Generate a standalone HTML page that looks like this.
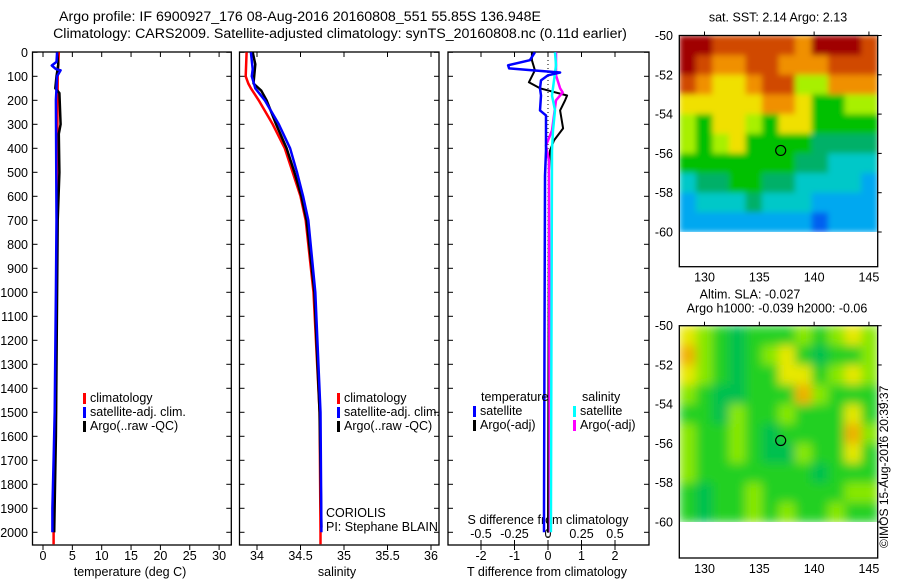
<!DOCTYPE html>
<html><head><meta charset="utf-8">
<style>
html,body{margin:0;padding:0;background:#fff;}
svg{display:block;font-family:"Liberation Sans",sans-serif;}
text{font-size:12.5px;fill:#000;}
</style></head>
<body>
<svg id="fig" width="900" height="580" viewBox="0 0 900 580">
<defs>
<filter id="blurSst" x="0" y="0" width="1" height="1"><feGaussianBlur stdDeviation="3" edgeMode="duplicate"/></filter>
<filter id="blurSla" x="0" y="0" width="1" height="1"><feGaussianBlur stdDeviation="5" edgeMode="duplicate"/></filter>
<clipPath id="clipM1"><rect x="679.3" y="35.5" width="198.4" height="196.5"/></clipPath>
<clipPath id="clipM2"><rect x="679.3" y="325.7" width="198.4" height="196.3"/></clipPath>
</defs>
<text x="300" y="21" text-anchor="middle" style="font-size:14.2px">Argo profile: IF 6900927_176 08-Aug-2016 20160808_551 55.85S 136.948E</text>
<text x="340" y="38" text-anchor="middle" style="font-size:14.2px">Climatology: CARS2009. Satellite-adjusted climatology: synTS_20160808.nc (0.11d earlier)</text>
<g id="g1"></g>
<g id="g2"></g>
<g id="g3"></g>
<g id="m1"></g>
<g id="m2"></g>
<text transform="translate(888,548) rotate(-90)" style="font-size:12px">©IMOS 15-Aug-2016 20:39:37</text>
</svg>
<script>
// ---- data ----
const depthTicks=[0,100,200,300,400,500,600,700,800,900,1000,1100,1200,1300,1400,1500,1600,1700,1800,1900,2000];
const tempTicks=[0,5,10,15,20,25,30];
const salTicks=[34,34.5,35,35.5,36];
const salTickLabels=['34','34.5','35','35.5','36'];
const tdTicks=[-2,-1,0,1,2];
const sdTicks=[-0.5,-0.25,0,0.25,0.5];
const sdTickLabels=['-0.5','-0.25','0','0.25','0.5'];

const tClimD=[0,100,500,1000,1500,2000,2050];
const tClimV=[2.7,2.5,2.4,2.3,2.2,1.8,1.8];
const tSatD=[0,40,55,70,75,100,200,700,1000,1500,1700,1900,2000];
const tSatV=[2.4,2.3,1.5,2.2,3.0,2.4,2.2,2.3,2.2,2.0,1.8,1.6,1.6];
const tArgoD=[0,50,100,150,170,300,340,500,700,1000,1600,2000];
const tArgoV=[2.4,2.6,2.3,2.1,2.8,3.0,2.7,2.8,2.5,2.4,2.2,1.9];

const sClimD=[0,100,130,150,200,300,400,500,600,700,1000,1500,2000,2050];
const sClimV=[33.88,33.87,33.9,33.93,34.02,34.18,34.32,34.41,34.5,34.56,34.65,34.72,34.73,34.73];
const sArgoD=[0,50,130,160,200,300,400,500,600,700,1000,1500,1980];
const sArgoV=[33.95,33.98,33.96,34.05,34.11,34.22,34.34,34.43,34.51,34.57,34.66,34.72,34.74];
const sSatD=[0,70,100,150,200,300,400,500,600,700,1000,1500,2000];
const sSatV=[33.93,33.95,33.94,33.98,34.09,34.25,34.38,34.46,34.53,34.59,34.67,34.73,34.74];

const dTSatD=[0,33,54,67,75,84,96,117,150,180,242,263,326,409,514,1900,2000];
const dTSatV=[-0.39,-0.54,-1.19,-1.16,-0.48,0.36,0,-0.21,-0.24,-0.21,-0.24,-0.06,-0.06,-0.06,-0.09,-0.12,-0.12];
const dTArgoD=[0,33,75,125,150,180,200,242,317,367,409,493,2000];
const dTArgoV=[-0.48,-0.48,-0.39,-0.57,-0.24,0.57,0.51,0.36,0.45,0.18,0.06,0.03,0];
const dSSatD=[0,54,117,180,242,326,409,2000];
const dSSatV=[0.052,0.06,0.045,0.03,0.052,0.037,0.03,0.022];
const dSArgoD=[0,96,150,167,200,326,388,451,2000];
const dSArgoV=[0.06,0.06,0.09,0.11,0.06,0.03,-0.015,0.007,0.015];

const lonTicks=[130,135,140,145];
const latTicks=[-50,-52,-54,-56,-58,-60];
const sstGrid=[
[0,0,1,1,1,1,1,2,0,0,0,1],
[0,1,2,2,1,1,2,2,2,1,1,1],
[1,2,3,3,2,1,1,4,4,2,2,2],
[3,3,3,3,3,2,2,3,5,5,4,4],
[4,5,3,3,4,5,3,3,5,5,5,5],
[4,5,4,3,5,5,5,5,6,6,6,6],
[5,5,5,5,5,5,5,6,6,7,7,7],
[7,6,6,5,5,6,6,7,7,7,7,8],
[8,7,7,7,6,7,7,7,8,8,8,8],
[8,8,8,8,8,8,8,8,9,8,8,8]];
const slaGrid=[
[4,3,2,1,2,2,2,3,2,3,4,3],
[5,3,2,1,2,3,4,2,1,2,2,3],
[4,3,2,1,2,2,4,4,2,3,4,3],
[3,2,1,1,2,2,2,5,3,2,2,2],
[2,2,1,3,2,2,3,2,2,2,4,2],
[3,2,2,3,2,1,2,2,2,2,5,3],
[3,2,2,3,2,1,1,3,2,2,4,2],
[3,2,2,2,2,2,2,2,1,2,2,2],
[2,1,2,2,3,2,2,2,2,2,3,3],
[2,1,2,2,3,2,3,2,2,3,2,2]];
const argoLon=[136.95], argoLat=[-55.85];

// ---- helpers ----
const NS='http://www.w3.org/2000/svg';
function mk(parent,tag,attrs,txt){const e=document.createElementNS(NS,tag);for(const k in attrs)e.setAttribute(k,attrs[k]);if(txt!==undefined)e.textContent=txt;parent.appendChild(e);return e;}
const Y0=52.3, YS=0.24;
const yD=d=>Y0+d*YS;

function panel(g,x0,x1,name){
  const r=mk(g,'rect',{x:x0,y:52,width:x1-x0,height:545-52,fill:'none',stroke:'#000','stroke-width':1.3});
  
  
  depthTicks.forEach(d=>{
    const t=mk(g,'line',{x1:x0,x2:x0+5,y1:yD(d),y2:yD(d),stroke:'#000'});
    
    
    const t2=mk(g,'line',{x1:x1-5,x2:x1,y1:yD(d),y2:yD(d),stroke:'#000'});
    
    
  });
}
function series(g,D,V,xf,color,name,w){
  const pts=D.map((d,i)=>xf(V[i]).toFixed(1)+','+yD(d).toFixed(1)).join(' ');
  const p=mk(g,'polyline',{points:pts,fill:'none',stroke:color,'stroke-width':w||2.5,'stroke-linejoin':'round'});
  
  
}
function legend(g,x,y,color,label){
  const l=mk(g,'rect',{x:x,y:y-9,width:3,height:11,fill:color});
  
  
  const t=mk(g,'text',{x:x+7,y:y},label);
  
  
}

// ---- temperature panel ----
const g1=document.getElementById('g1');
const xT=v=>43+5.87*v;
panel(g1,32.5,231.3,'temperature');
depthTicks.forEach(d=>{
  const t=mk(g1,'text',{x:28,y:yD(d)+4.5,'text-anchor':'end'},String(d));
  
  
});
tempTicks.forEach(v=>{
  const l=mk(g1,'line',{x1:xT(v),x2:xT(v),y1:52,y2:57,stroke:'#000'});
  
  
  const l2=mk(g1,'line',{x1:xT(v),x2:xT(v),y1:545,y2:550,stroke:'#000'});
  
  
  const t=mk(g1,'text',{x:xT(v),y:560,'text-anchor':'middle'},String(v));
  
  
});
const xl1=mk(g1,'text',{x:130,y:576,'text-anchor':'middle'},'temperature (deg C)');


series(g1,tClimD,tClimV,xT,'#f00','temp-climatology-line');
series(g1,tArgoD,tArgoV,xT,'#000','temp-argo-line');
series(g1,tSatD,tSatV,xT,'#00f','temp-satellite-line');
legend(g1,83,402,'#f00','climatology');
legend(g1,83,416,'#00f','satellite-adj. clim.');
legend(g1,83,430,'#000','Argo(..raw -QC)');

// ---- salinity panel ----
const g2=document.getElementById('g2');
const xS=v=>257+87*(v-34);
panel(g2,239.5,439,'salinity');
salTicks.forEach((v,i)=>{
  const l=mk(g2,'line',{x1:xS(v),x2:xS(v),y1:52,y2:57,stroke:'#000'});
  
  
  const l2=mk(g2,'line',{x1:xS(v),x2:xS(v),y1:545,y2:550,stroke:'#000'});
  
  
  const t=mk(g2,'text',{x:xS(v),y:560,'text-anchor':'middle'},salTickLabels[i]);
  
  
});
const xl2=mk(g2,'text',{x:337,y:576,'text-anchor':'middle'},'salinity');


series(g2,sClimD,sClimV,xS,'#f00','sal-climatology-line');
series(g2,sArgoD,sArgoV,xS,'#000','sal-argo-line');
series(g2,sSatD,sSatV,xS,'#00f','sal-satellite-line');
legend(g2,337,402,'#f00','climatology');
legend(g2,337,416,'#00f','satellite-adj. clim.');
legend(g2,337,430,'#000','Argo(..raw -QC)');
const c1=mk(g2,'text',{x:326,y:517},'CORIOLIS');


const c2=mk(g2,'text',{x:326,y:531},'PI: Stephane BLAIN');



// ---- difference panel ----
const g3=document.getElementById('g3');
const xTd=v=>548+33.5*v;
const xSd=v=>548+134*v;
panel(g3,448,649,'difference');
const zl=mk(g3,'line',{x1:xTd(0),x2:xTd(0),y1:52,y2:545,stroke:'#000','stroke-dasharray':'1 3'});


tdTicks.forEach(v=>{
  const l=mk(g3,'line',{x1:xTd(v),x2:xTd(v),y1:52,y2:57,stroke:'#000'});
  
  
  const l2=mk(g3,'line',{x1:xTd(v),x2:xTd(v),y1:545,y2:550,stroke:'#000'});
  
  
  const t=mk(g3,'text',{x:xTd(v),y:560,'text-anchor':'middle'},String(v));
  
  
});
sdTicks.forEach((v,i)=>{
  const l=mk(g3,'line',{x1:xSd(v),x2:xSd(v),y1:540,y2:545,stroke:'#000'});
  
  
  const t=mk(g3,'text',{x:xSd(v),y:538,'text-anchor':'middle'},sdTickLabels[i]);
  
  
});
const st=mk(g3,'text',{x:548,y:524,'text-anchor':'middle'},'S difference from climatology');


const tt=mk(g3,'text',{x:547,y:576,'text-anchor':'middle'},'T difference from climatology');


series(g3,dTArgoD,dTArgoV,xTd,'#000','tdiff-argo-line',2);
series(g3,dSArgoD,dSArgoV,xSd,'#f0f','sdiff-argo-line',2.5);
series(g3,dSSatD,dSSatV,xSd,'#0ff','sdiff-satellite-line',2.5);
series(g3,dTSatD,dTSatV,xTd,'#00f','tdiff-satellite-line',2.5);
const lt=mk(g3,'text',{x:481,y:401},'temperature');


const ls=mk(g3,'text',{x:582,y:401},'salinity');


legend(g3,473,415,'#00f','satellite');
legend(g3,473,429,'#000','Argo(-adj)');
legend(g3,573,415,'#0ff','satellite');
legend(g3,573,429,'#f0f','Argo(-adj)');

// ---- maps ----
const sstCols=['#a00000','#d04800','#f09000','#f0e000','#a8f000','#00c000','#00b068','#00c8c8','#00a8f0','#0060f0'];
const slaCols=['#00a888','#00c050','#20d020','#88e800','#e8e800','#f0b000'];
function map(g,top,dataBot,frameBot,grid,cols,title1,title2,name,filt,clip){
  const L=679.3,R=877.7;
  const xL=lon=>L+(lon-127.7)*(R-L)/18.1;
  const yL=lat=>top+(-50-lat)*(dataBot-top)/10;
  const nr=grid.length,nc=grid[0].length;
  const cw=(R-L)/nc,ch=(dataBot-top)/nr;
  const cg=mk(g,'g',{'clip-path':'url(#'+clip+')'});
  
  
  const fg=mk(cg,'g',{filter:'url(#'+filt+')'});
  grid.forEach((row,i)=>row.forEach((v,j)=>{
    const c=mk(fg,'rect',{x:L+j*cw,y:top+i*ch,width:cw+0.6,height:ch+0.6,fill:cols[v]});
    
    
  }));
  const f=mk(g,'rect',{x:L,y:top,width:R-L,height:frameBot-top,fill:'none',stroke:'#000','stroke-width':1.3});
  
  
  latTicks.forEach(lat=>{
    const t=mk(g,'text',{x:673,y:yL(lat)+4.5,'text-anchor':'end'},String(lat));
    
    
    const l=mk(g,'line',{x1:R,x2:R+4,y1:yL(lat),y2:yL(lat),stroke:'#000'});
    
    
  });
  lonTicks.forEach(lon=>{
    const l=mk(g,'line',{x1:xL(lon),x2:xL(lon),y1:top-4,y2:top,stroke:'#000'});
    
    
    const t=mk(g,'text',{x:xL(lon),y:frameBot+15,'text-anchor':'middle'},String(lon));
    
    
  });
  const c=mk(g,'circle',{cx:xL(argoLon[0]),cy:yL(argoLat[0]),r:5,fill:'none',stroke:'#000','stroke-width':1.2});
  
  
  if(title2){
    const a=mk(g,'text',{x:750,y:top-27,'text-anchor':'middle'},title1);
    
    
    const b=mk(g,'text',{x:777,y:top-13,'text-anchor':'middle'},title2);
    
    
  } else {
    const a=mk(g,'text',{x:778,y:top-14,'text-anchor':'middle'},title1);
    
    
  }
}
map(document.getElementById('m1'),35.5,232,266.7,sstGrid,sstCols,'sat. SST: 2.14 Argo: 2.13',null,'sst-map','blurSst','clipM1');
map(document.getElementById('m2'),325.7,522,558,slaGrid,slaCols,'Altim. SLA: -0.027','Argo h1000: -0.039 h2000: -0.06','sla-map','blurSla','clipM2');
</script>
</body></html>
